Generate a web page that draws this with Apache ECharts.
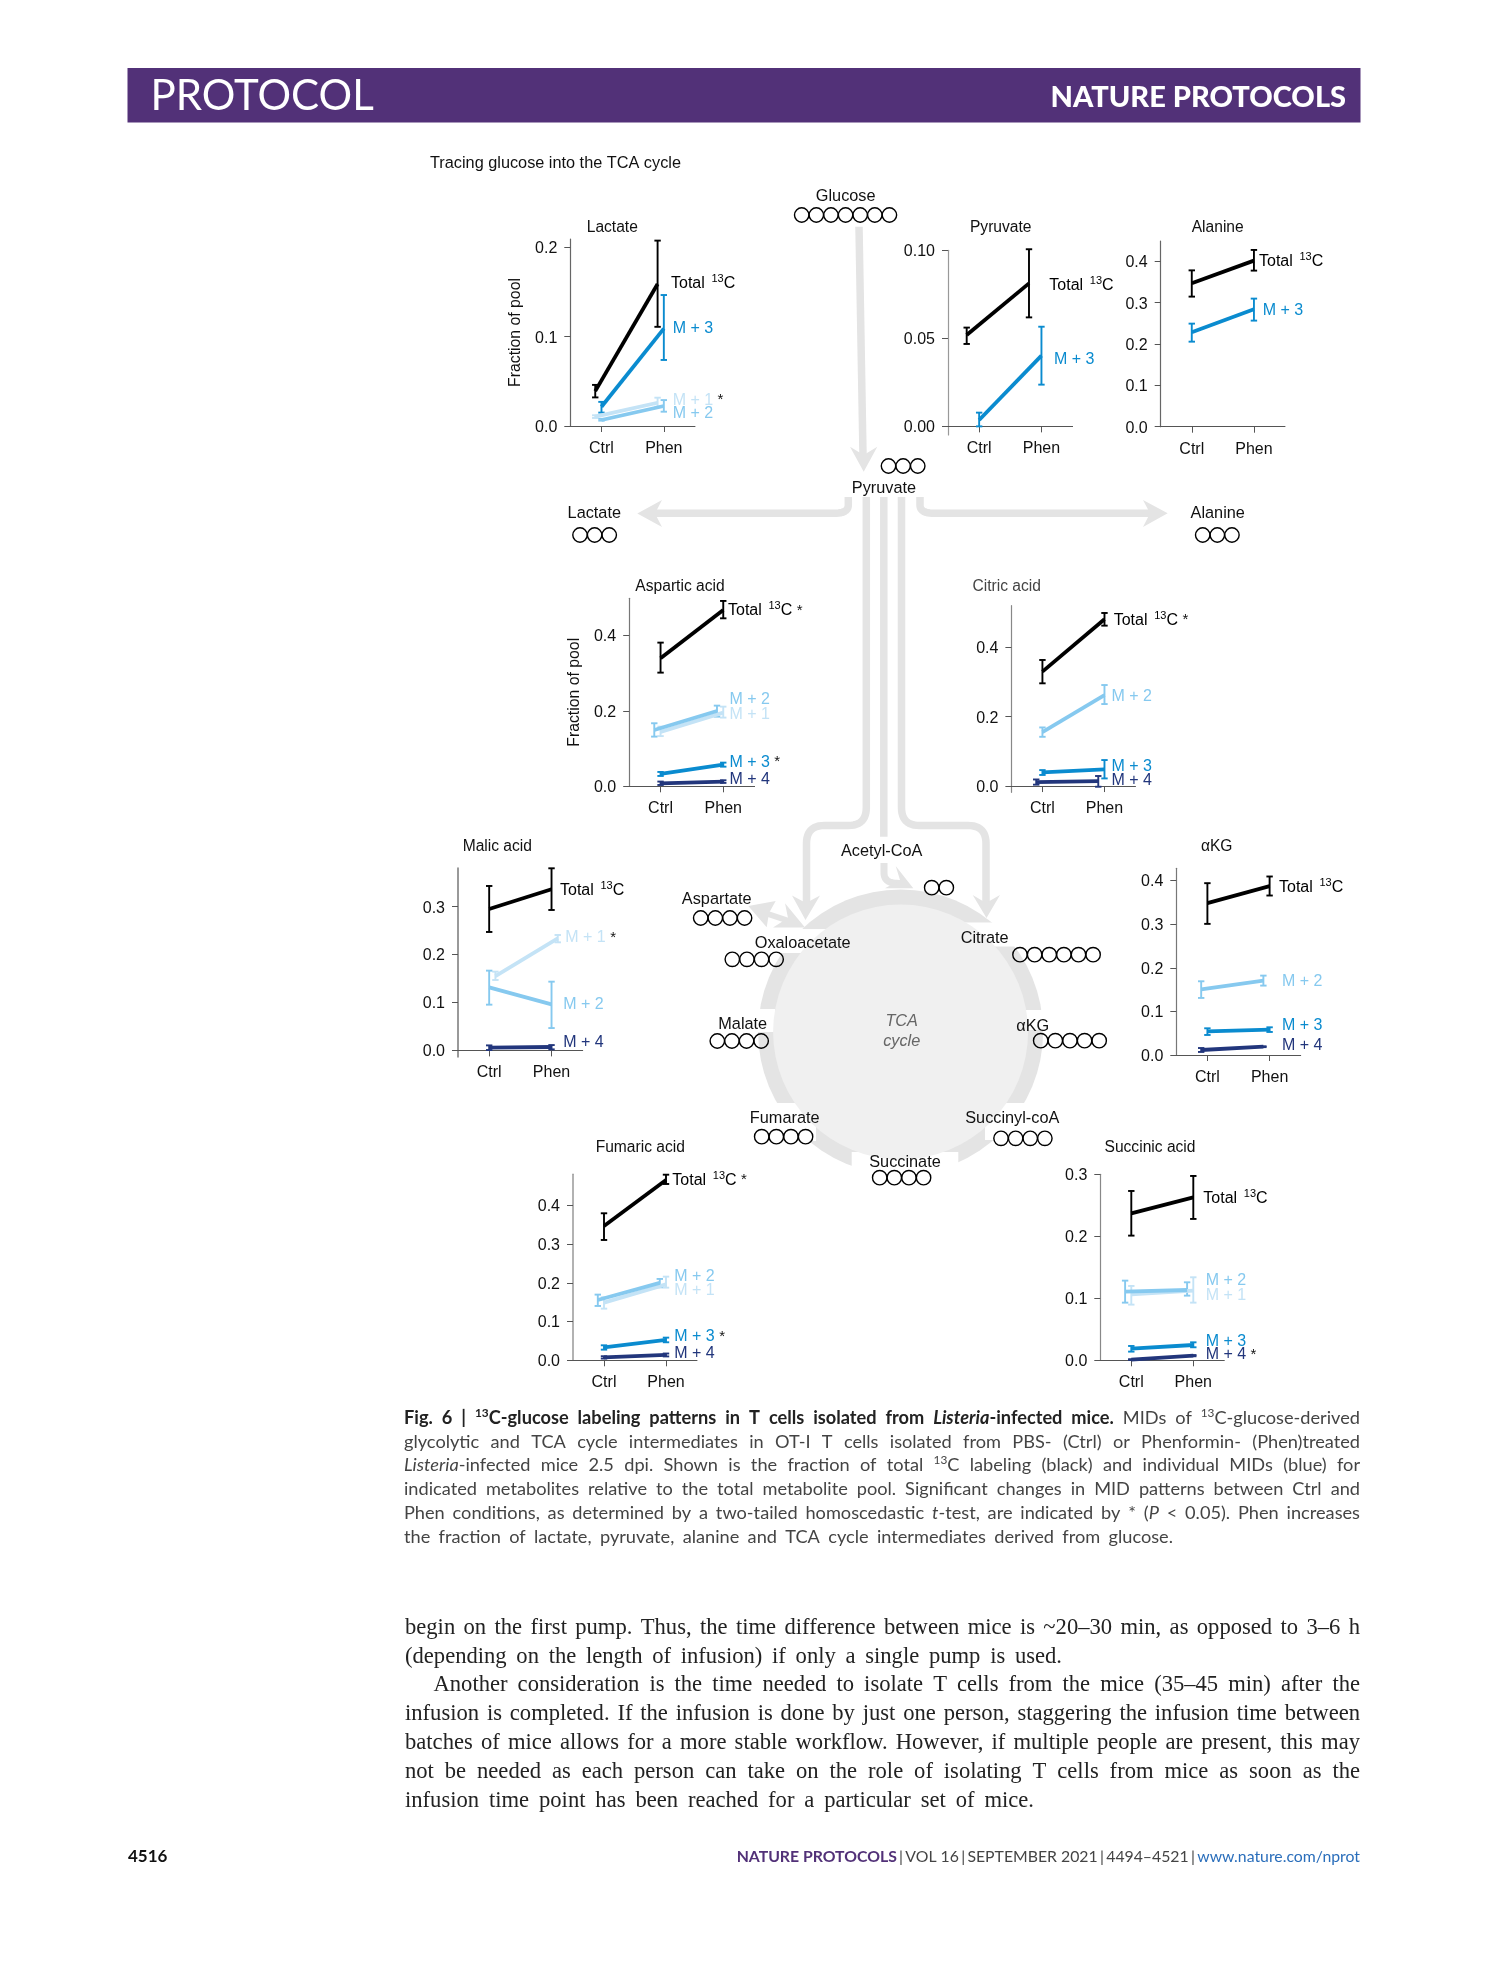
<!DOCTYPE html>
<html>
<head>
<meta charset="utf-8">
<style>html,body{margin:0;padding:0;background:#fff}#c{position:absolute;left:0;top:0;width:1489px;height:1978px}</style>
<script src="https://cdn.jsdelivr.net/npm/echarts@6/dist/echarts.min.js"></script>
</head>
<body>
<div id="c"></div>
<script>
// ---- data: each entry is [mean, lower error, upper error] for Ctrl then Phen
const categories = ['Ctrl', 'Phen'];

const lactateTotal = [[0.039, 0.032, 0.046], [0.159, 0.111, 0.2075]];
const lactateM1 = [[0.0104, 0.009, 0.012], [0.026, 0.0216, 0.0317]];
const lactateM2 = [[0.0067, 0.006, 0.008], [0.0224, 0.016, 0.029]];
const lactateM3 = [[0.0216, 0.015, 0.027], [0.109, 0.0739, 0.1466]];
const lactateTicks = [0, 0.1, 0.2];

const pyruvateTotal = [[0.0519, 0.0468, 0.0561], [0.0812, 0.0619, 0.1006]];
const pyruvateM3 = [[0.0036, 0, 0.0078], [0.0402, 0.0237, 0.0566]];
const pyruvateTicks = [0, 0.05, 0.1];

const alanineTotal = [[0.3468, 0.3145, 0.378], [0.4016, 0.3774, 0.4274]];
const alanineM3 = [[0.2282, 0.2056, 0.2492], [0.2839, 0.2565, 0.3097]];
const alanineTicks = [0, 0.1, 0.2, 0.3, 0.4];

const asparticTotal = [[0.339, 0.3011, 0.3806], [0.4671, 0.445, 0.491]];
const asparticM1 = [[0.144, 0.133, 0.158], [0.195, 0.182, 0.211]];
const asparticM2 = [[0.149, 0.1316, 0.167], [0.1996, 0.1845, 0.2137]];
const asparticM3 = [[0.0327, 0.0274, 0.038], [0.0574, 0.052, 0.0627]];
const asparticM4 = [[0.008, 0.0035, 0.0125], [0.0124, 0.009, 0.016]];
const asparticTicks = [0, 0.2, 0.4];

const citricTotal = [[0.3298, 0.2962, 0.3635], [0.4808, 0.4625, 0.499]];
const citricM2 = [[0.1558, 0.142, 0.169], [0.2625, 0.2365, 0.2913]];
const citricM3 = [[0.0394, 0.032, 0.046], [0.048, 0.022, 0.075]];
const citricM4 = [[0.0115, 0.004, 0.019], [0.0144, -0.002, 0.029]];
const citricTicks = [0, 0.2, 0.4];

const malicTotal = [[0.2951, 0.2471, 0.3431], [0.3362, 0.293, 0.38]];
const malicM1 = [[0.1552, 0.1469, 0.1643], [0.2339, 0.2255, 0.2408]];
const malicM2 = [[0.1316, 0.0954, 0.1664], [0.0961, 0.0466, 0.1434]];
const malicM4 = [[0.0056, 0.0007, 0.0104], [0.007, 0.0021, 0.0111]];
const malicTicks = [0, 0.1, 0.2, 0.3];

const akgTotal = [[0.348, 0.3006, 0.3939], [0.387, 0.3656, 0.4092]];
const akgM2 = [[0.1507, 0.1308, 0.169], [0.1706, 0.1591, 0.182]];
const akgM3 = [[0.0543, 0.0459, 0.0612], [0.0581, 0.0528, 0.0635]];
const akgM4 = [[0.0115, 0.007, 0.016], [0.0191, 0.018, 0.02]];
const akgTicks = [0, 0.1, 0.2, 0.3, 0.4];

const fumaricTotal = [[0.3467, 0.3105, 0.3794], [0.4654, 0.455, 0.479]];
const fumaricM1 = [[0.1488, 0.1333, 0.1626], [0.1961, 0.1875, 0.2159]];
const fumaricM2 = [[0.1557, 0.1402, 0.1695], [0.1996, 0.1884, 0.21]];
const fumaricM3 = [[0.0335, 0.0275, 0.0387], [0.0525, 0.0465, 0.0585]];
const fumaricM4 = [[0.0077, 0.0045, 0.0105], [0.0138, 0.01, 0.0175]];
const fumaricTicks = [0, 0.1, 0.2, 0.3, 0.4];

const succinicTotal = [[0.2371, 0.2011, 0.2731], [0.2629, 0.228, 0.2973]];
const succinicM1 = [[0.1065, 0.0898, 0.1199], [0.1124, 0.093, 0.1339]];
const succinicM2 = [[0.1108, 0.093, 0.1285], [0.1134, 0.1043, 0.1258]];
const succinicM3 = [[0.0188, 0.014, 0.0231], [0.0247, 0.021, 0.029]];
const succinicM4 = [[0.0011, 0.0005, 0.0018], [0.0075, 0.0065, 0.0085]];
const succinicTicks = [0, 0.1, 0.2, 0.3];

// ---- styles
const SANS = '"Liberation Sans", Arial, sans-serif';
const LATO = 'Lato, "Open Sans", sans-serif';
const SERIF = '"Liberation Serif", serif';
const colors = { total: '#000000', m1: '#c4e3f6', m2: '#86c9ef', m3: '#0a8bcf', m4: '#22367c' };
const labelsText = { m1: 'M + 1', m2: 'M + 2', m3: 'M + 3', m4: 'M + 4' };
const GREY = '#e4e4e4';
const TEXT_DY = 0.8;

// ---- panel layout: box = [left, top, right, bottom] in page pixels
const panels = [
  { box: [570.3, 239, 695, 426], y: [0, 0.2093], ticks: lactateTicks, dec: 1, yName: true, axis: '#666',
    series: [['m1', lactateM1, -0.1], ['m2', lactateM2, 0], ['m3', lactateM3, 0], ['total', lactateTotal, -0.1]],
    labels: [['total', 671, 282.3], ['m3', 672.7, 327.7], ['m1', 672.7, 399.3, 1], ['m2', 672.7, 412.7]] },
  { box: [948, 250.3, 1072.6, 435], y: [-0.0049, 0.1], ticks: pyruvateTicks, dec: 2, axis: '#999',
    series: [['m3', pyruvateM3, 0], ['total', pyruvateTotal, -0.2]],
    labels: [['total', 1049.3, 284.3], ['m3', 1054, 358.3]] },
  { box: [1160.7, 241, 1285, 426.7], y: [0, 0.449], ticks: alanineTicks, dec: 1, axis: '#666',
    series: [['m3', alanineM3, 0], ['total', alanineTotal, 0]],
    labels: [['total', 1259, 261], ['m3', 1262.7, 309.3]] },
  { box: [629.2, 598.3, 754.6, 786.3], y: [0, 0.498], ticks: asparticTicks, dec: 1, yName: true, axis: '#777',
    series: [['m1', asparticM1, 0], ['m2', asparticM2, -0.1], ['m3', asparticM3, 0], ['m4', asparticM4, 0], ['total', asparticTotal, 0]],
    labels: [['total', 728, 610, 1], ['m2', 729.4, 698.3], ['m1', 729.4, 713.7], ['m3', 729.4, 761.3, 1], ['m4', 729.4, 778.7]] },
  { box: [1011.4, 605.7, 1135.5, 792.3], y: [-0.018, 0.52], ticks: citricTicks, dec: 1, axis: '#888',
    series: [['m2', citricM2, 0], ['m3', citricM3, 0], ['m4', citricM4, -0.1], ['total', citricTotal, 0]],
    labels: [['total', 1113.7, 619.3, 1], ['m2', 1111.5, 695.7], ['m3', 1111.5, 765.7], ['m4', 1111.5, 779.7]] },
  { box: [458, 868.3, 582.7, 1056.7], y: [-0.0132, 0.38], ticks: malicTicks, dec: 1, axis: '#999', axisW: 2,
    series: [['m1', malicM1, 0.1], ['m2', malicM2, 0], ['m4', malicM4, 0], ['total', malicTotal, 0]],
    labels: [['total', 560, 890], ['m1', 565.3, 936.7, 1], ['m2', 563.3, 1003.3], ['m4', 563.3, 1042]] },
  { box: [1176.3, 868.3, 1300.7, 1055], y: [0, 0.428], ticks: akgTicks, dec: 1, axis: '#777',
    series: [['m2', akgM2, -0.1], ['m3', akgM3, 0], ['m4', akgM4, -0.1], ['total', akgTotal, 0]],
    labels: [['total', 1279, 886.3], ['m2', 1282, 980.7], ['m3', 1282, 1024.7], ['m4', 1282, 1045]] },
  { box: [573, 1174.3, 697, 1360.3], y: [0, 0.48], ticks: fumaricTicks, dec: 1, axis: '#999', axisW: 1.5,
    series: [['m1', fumaricM1, 0], ['m2', fumaricM2, -0.1], ['m3', fumaricM3, 0], ['m4', fumaricM4, 0], ['total', fumaricTotal, 0]],
    labels: [['total', 672.3, 1179.3, 1], ['m2', 674.3, 1275.7], ['m1', 674.3, 1289.7], ['m3', 674.3, 1335.7, 1], ['m4', 674.3, 1352.7]] },
  { box: [1100.3, 1174.3, 1224.3, 1360.3], y: [0, 0.3], ticks: succinicTicks, dec: 1, axis: '#888',
    series: [['m1', succinicM1, 0], ['m2', succinicM2, -0.1], ['m3', succinicM3, 0], ['m4', succinicM4, 0], ['total', succinicTotal, 0]],
    labels: [['total', 1203.3, 1197.3], ['m2', 1205.7, 1280], ['m1', 1205.7, 1294.3], ['m3', 1205.7, 1340.3], ['m4', 1205.7, 1353.7, 1]] }
];

// ---- charts
const grids = [], xAxes = [], yAxes = [], series = [], graphic = [];
panels.forEach((p, i) => {
  const [l, t, r, b] = p.box;
  const belowZero = -p.y[0] / (p.y[1] - p.y[0]) * (b - t);
  grids.push({ left: l, top: t, width: r - l, height: b - t, containLabel: false });
  xAxes.push({
    type: 'value', gridIndex: i, min: 0.5, max: 2.5, splitLine: { show: false },
    axisLine: { show: true, onZero: true, lineStyle: { color: '#555', width: 1 } },
    axisTick: { show: true, length: 6, customValues: [1, 2], lineStyle: { color: '#555', width: 1 } },
    axisLabel: { show: true, customValues: [1, 2], margin: 14.5 - belowZero, fontFamily: SANS, fontSize: 16, color: '#111', formatter: v => categories[Math.round(v) - 1] }
  });
  yAxes.push({
    type: 'value', gridIndex: i, min: p.y[0], max: p.y[1], splitLine: { show: false },
    axisLine: { show: true, onZero: false, lineStyle: { color: p.axis, width: p.axisW || 1.2 } },
    axisTick: { show: true, length: 6, customValues: p.ticks, lineStyle: { color: '#555', width: 1 } },
    axisLabel: { show: true, customValues: p.ticks, margin: 13, verticalAlign: 'top', lineHeight: 3, fontFamily: SANS, fontSize: 16, color: '#111', formatter: v => v.toFixed(p.dec) },
    name: p.yName ? 'Fraction of pool' : '', nameLocation: 'middle', nameRotate: 90, nameGap: 47,
    nameTextStyle: { fontFamily: SANS, fontSize: 15.8, color: '#111' }
  });
  p.series.forEach(([key, vals, dx]) => {
    const c = colors[key];
    series.push({
      type: 'line', xAxisIndex: i, yAxisIndex: i, showSymbol: false, symbol: 'none', silent: true, clip: false,
      lineStyle: { color: c, width: 3.8, cap: 'butt' },
      data: vals.map((v, k) => [k + 1 + dx, v[0]])
    });
    series.push({
      type: 'custom', xAxisIndex: i, yAxisIndex: i, silent: true, clip: false,
      encode: { x: 0, y: [1, 2] },
      data: vals.map((v, k) => [k + 1 + dx, v[1], v[2]]),
      renderItem: (params, api) => {
        const lo = api.coord([api.value(0), api.value(1)]);
        const hi = api.coord([api.value(0), api.value(2)]);
        const style = { stroke: c, lineWidth: 1.9, fill: null };
        const seg = (x1, y1, x2, y2) => ({ type: 'line', shape: { x1, y1, x2, y2 }, style });
        return { type: 'group', children: [
          seg(lo[0], lo[1], hi[0], hi[1]),
          seg(lo[0] - 3.2, lo[1], lo[0] + 3.2, lo[1]),
          seg(hi[0] - 3.2, hi[1], hi[0] + 3.2, hi[1])
        ] };
      }
    });
  });
  p.labels.forEach(([key, x, y, star]) => {
    const c = colors[key];
    const body = key === 'total' ? '{n|Total }{sp| }{s|13}{n|C}' : '{n|' + labelsText[key] + '}';
    graphic.push({ type: 'text', silent: true, z: 20, style: {
      x, y: y + TEXT_DY, verticalAlign: 'middle', align: 'left', fontFamily: SANS, fontSize: 16,
      text: body + (star ? '{n| }{st|*}' : ''),
      rich: {
        n: { fontFamily: SANS, fontSize: 16, fill: c, lineHeight: 20 },
        sp: { fontFamily: SANS, fontSize: 8, fill: c, lineHeight: 20 },
        s: { fontFamily: SANS, fontSize: 11, fill: c, verticalAlign: 'top', lineHeight: 20 },
        st: { fontFamily: SANS, fontSize: 15, fill: '#111', lineHeight: 20 }
      } } });
  });
});

// ---- diagram helpers
function sampleRounded(pts, r) {
  const out = [pts[0]];
  for (let i = 1; i < pts.length - 1; i++) {
    const [a, b, c] = [pts[i - 1], pts[i], pts[i + 1]];
    const la = Math.hypot(a[0] - b[0], a[1] - b[1]), lc = Math.hypot(c[0] - b[0], c[1] - b[1]);
    const ra = Math.min(r, la / 2), rc = Math.min(r, lc / 2);
    const p0 = [b[0] + (a[0] - b[0]) * ra / la, b[1] + (a[1] - b[1]) * ra / la];
    const p2 = [b[0] + (c[0] - b[0]) * rc / lc, b[1] + (c[1] - b[1]) * rc / lc];
    for (let k = 0; k <= 12; k++) {
      const t = k / 12, u = 1 - t;
      out.push([u * u * p0[0] + 2 * u * t * b[0] + t * t * p2[0], u * u * p0[1] + 2 * u * t * b[1] + t * t * p2[1]]);
    }
  }
  out.push(pts[pts.length - 1]);
  return out;
}
const grey = (pts, r, w) => graphic.push({ type: 'polyline', silent: true, z: 2,
  shape: { points: sampleRounded(pts, r || 0) }, style: { stroke: GREY, lineWidth: w || 7.5, fill: null, lineCap: 'butt', lineJoin: 'round' } });
const head = pts => graphic.push({ type: 'polygon', silent: true, z: 2, shape: { points: pts }, style: { fill: GREY } });
const rect = (x, y, w, h) => graphic.push({ type: 'rect', silent: true, z: 1, shape: { x, y, width: w, height: h }, style: { fill: '#ffffff' } });
const disc = (r, fill, z) => graphic.push({ type: 'circle', silent: true, z, shape: { cx: 900.6, cy: 1032, r }, style: { fill } });
function chain(n, x, y) {
  for (let i = 0; i < n; i++) graphic.push({ type: 'circle', silent: true, z: 10, shape: { cx: x + i * 14.62, cy: y, r: 7.2 },
    style: { fill: 'rgba(0,0,0,0)', stroke: '#000', lineWidth: 1.4 } });
}
function label(text, x, y, opt) {
  graphic.push({ type: 'text', silent: true, z: 20, style: Object.assign({ text, x, y: y + TEXT_DY, align: 'center', verticalAlign: 'middle',
    fontFamily: SANS, fontSize: 16.3, fill: '#111' }, opt || {}) });
}

// TCA ring with its label gaps
disc(142.5, GREY, 0);
rect(773, 929, 58, 24);
rect(960, 922.5, 60, 24);
rect(755, 1009, 20, 23);
rect(1026, 1010, 20, 20);
rect(750, 1103, 66, 38);
rect(985, 1103, 58, 37);
rect(851.7, 1152, 106.6, 30);
disc(127.5, '#f0f0f0', 1);

// pathway arrows
grey([[859, 226.7], [863, 455]]);
head([[850, 446.7], [863.7, 471.7], [877.3, 446.7], [863.7, 455]]);
grey([[848.3, 497], [848.3, 513.3], [655, 513.3]], 14);
head([[637.3, 513.5], [662, 500], [655, 513.5], [662, 527]]);
grey([[920, 497], [920, 513.3], [1150, 513.3]], 14);
head([[1167.7, 513.3], [1143, 500], [1150, 513.3], [1143, 527]]);
grey([[866.3, 497], [866.3, 825.5], [806.5, 825.5], [806.5, 905]], 18);
head([[805.5, 920], [792, 895.5], [806, 903], [820, 895.5]]);
grey([[883.8, 497], [883.8, 836.7]]);
grey([[901.5, 497], [901.5, 825.5], [986, 825.5], [986, 905]], 18);
head([[986.5, 918], [972.7, 895], [986, 903], [1000, 895]]);
grey([[884, 863], [884, 882], [904, 884]], 12, 7);
head([[913.3, 888.3], [895.7, 866], [900, 880], [885, 888.3]]);
grey([[762, 912], [792, 922]], 0, 6);
head([[748.3, 906], [775.7, 901], [769, 913], [766.7, 927.3]]);
head([[805, 927.5], [785, 903.3], [788, 918], [773, 927.5]]);

// metabolite carbons and names
chain(7, 801.7, 215); label('Glucose', 845.7, 195.7);
chain(3, 888.5, 466); label('Pyruvate', 884, 487.5);
chain(3, 580, 535); label('Lactate', 594.3, 512.3);
chain(3, 1202.7, 535); label('Alanine', 1217.7, 512.3);
chain(2, 931.7, 887.7); label('Acetyl-CoA', 881.7, 850.7);
chain(4, 700.7, 918); label('Aspartate', 716.7, 898.3);
chain(4, 732.3, 959.3); label('Oxaloacetate', 802.7, 942.7);
chain(4, 717.3, 1041); label('Malate', 742.7, 1023.3);
chain(4, 761.7, 1136.7); label('Fumarate', 784.7, 1117.3);
chain(4, 879.7, 1177.7); label('Succinate', 905, 1161.7);
chain(4, 1001, 1138.3); label('Succinyl-coA', 1012.3, 1117.7);
chain(5, 1040.7, 1040.7); label('αKG', 1032.7, 1026);
chain(6, 1020, 954.7); label('Citrate', 984.7, 937.3);
label('TCA', 901.7, 1020.7, { fontStyle: 'italic', fill: '#666' });
label('cycle', 901.7, 1040.7, { fontStyle: 'italic', fill: '#666' });

// panel titles
[['Lactate', 612.3, 226.7], ['Pyruvate', 1000.7, 226.7], ['Alanine', 1217.7, 226.7],
 ['Aspartic acid', 680, 585.7], ['Citric acid', 1006.7, 585.7], ['Malic acid', 497.3, 845.7],
 ['αKG', 1216.7, 845.7], ['Fumaric acid', 640.3, 1147.3], ['Succinic acid', 1150, 1147.3]]
  .forEach(t => label(t[0], t[1], t[2], t[0] === 'Citric acid' ? { fontSize: 15.6, fill: '#444' } : { fontSize: 15.6 }));
label('Tracing glucose into the TCA cycle', 430, 162.5, { align: 'left' });

// page header and footer
graphic.push({ type: 'rect', silent: true, z: 0, shape: { x: 127.5, y: 68, width: 1233, height: 54.5 }, style: { fill: '#523178' } });
label('PROTOCOL', 150.5, 95.5, { align: 'left', fontFamily: LATO, fontSize: 42, fontWeight: 400, fill: '#fff' });
label('NATURE PROTOCOLS', 1346, 96.5, { align: 'right', fontFamily: LATO, fontSize: 29, fontWeight: 900, fill: '#fff' });
label('4516', 128, 1855.5, { align: 'left', fontFamily: LATO, fontSize: 17, fontWeight: 700, fill: '#111' });
const footerSep = '{sp| }{g||}{sp| }';
graphic.push({ type: 'text', silent: true, z: 20, style: {
  x: 1360, y: 1856.7, align: 'right', verticalAlign: 'middle', fontFamily: LATO, fontSize: 16, fill: '#444',
  text: '{b|NATURE PROTOCOLS}' + footerSep + '{g|VOL 16}' + footerSep + '{g|SEPTEMBER 2021}' + footerSep + '{g|4494–4521}' + footerSep + '{u|www.nature.com/nprot}',
  rich: {
    b: { fontFamily: LATO, fontSize: 15.8, fontWeight: 700, fill: '#523178' },
    g: { fontFamily: LATO, fontSize: 15.8, fill: '#444' },
    sp: { fontFamily: LATO, fontSize: 9, fill: '#444' },
    u: { fontFamily: LATO, fontSize: 15.8, fill: '#2a6ebb' }
  } } });

// justified text: each word is placed so that the line spans x0..x1
const measureCtx = document.createElement('canvas').getContext('2d');
function parseWord(w) {
  const parts = []; const re = /\{([a-z]+)\|([^}]*)\}/g; let m, last = 0;
  while ((m = re.exec(w))) { if (m.index > last) parts.push(['r', w.slice(last, m.index)]); parts.push([m[1], m[2]]); last = re.lastIndex; }
  if (last < w.length) parts.push(['r', w.slice(last)]);
  return parts;
}
function typeset(line, x0, x1, y, family, size, color) {
  const styles = {
    r: { fontSize: size, fontFamily: family, fill: color },
    b: { fontSize: size, fontFamily: family, fontWeight: 700, fill: '#222' },
    i: { fontSize: size, fontFamily: family, fontStyle: 'italic', fill: color },
    bi: { fontSize: size, fontFamily: family, fontWeight: 700, fontStyle: 'italic', fill: '#222' },
    s: { fontSize: size * 0.65, fontFamily: family, fill: color, verticalAlign: 'top' },
    bs: { fontSize: size * 0.65, fontFamily: family, fontWeight: 700, fill: '#222', verticalAlign: 'top' }
  };
  for (const k in styles) styles[k].lineHeight = size + 4;
  const words = line.split(' ');
  const widths = words.map(w => parseWord(w).reduce((sum, [k, t]) => {
    const s = styles[k];
    measureCtx.font = (s.fontStyle || '') + ' ' + (s.fontWeight || 400) + ' ' + s.fontSize + 'px ' + s.fontFamily;
    return sum + measureCtx.measureText(t).width;
  }, 0));
  const total = widths.reduce((a, b) => a + b, 0);
  const gap = words.length > 1 ? (x1 - x0 - total) / (words.length - 1) : 0;
  let x = x0;
  words.forEach((w, i) => {
    graphic.push({ type: 'text', silent: true, z: 20, style: {
      x, y, align: 'left', verticalAlign: 'middle', fontFamily: family, fontSize: size, fill: color,
      text: parseWord(w).map(([k, t]) => '{' + k + '|' + t + '}').join(''), rich: styles } });
    x += widths[i] + gap;
  });
}

const captionLines = [
  ['{b|Fig.} {b|6} {b||} {bs|13}{b|C-glucose} {b|labeling} {b|patterns} {b|in} {b|T} {b|cells} {b|isolated} {b|from} {bi|Listeria}{b|-infected} {b|mice.} MIDs of {s|13}C-glucose-derived', 1360, 1418.5],
  ['glycolytic and TCA cycle intermediates in OT-I T cells isolated from PBS- (Ctrl) or Phenformin- (Phen)treated', 1360, 1442.5],
  ['{i|Listeria}-infected mice 2.5 dpi. Shown is the fraction of total {s|13}C labeling (black) and individual MIDs (blue) for', 1360, 1465.5],
  ['indicated metabolites relative to the total metabolite pool. Significant changes in MID patterns between Ctrl and', 1360, 1489.5],
  ['Phen conditions, as determined by a two-tailed homoscedastic {i|t}-test, are indicated by * ({i|P} < 0.05). Phen increases', 1360, 1513.5],
  ['the fraction of lactate, pyruvate, alanine and TCA cycle intermediates derived from glucose.', 1173, 1537.5]
];
captionLines.forEach(([t, x1, y]) => typeset(t, 404, x1, y, LATO, 18.2, '#444'));

const bodyLines = [
  ['begin on the first pump. Thus, the time difference between mice is ~20–30 min, as opposed to 3–6 h', 405, 1360, 1628],
  ['(depending on the length of infusion) if only a single pump is used.', 405, 1062, 1657],
  ['Another consideration is the time needed to isolate T cells from the mice (35–45 min) after the', 433.5, 1360, 1685],
  ['infusion is completed. If the infusion is done by just one person, staggering the infusion time between', 405, 1360, 1714],
  ['batches of mice allows for a more stable workflow. However, if multiple people are present, this may', 405, 1360, 1743],
  ['not be needed as each person can take on the role of isolating T cells from mice as soon as the', 405, 1360, 1772],
  ['infusion time point has been reached for a particular set of mice.', 405, 1034, 1801]
];
bodyLines.forEach(([t, x0, x1, y]) => typeset(t, x0, x1, y, SERIF, 22.6, '#222'));

const chart = echarts.init(document.getElementById('c'), null, { width: 1489, height: 1978 });
chart.setOption({
  animation: false, backgroundColor: '#fff', tooltip: { show: false },
  grid: grids, xAxis: xAxes, yAxis: yAxes, series, graphic: { elements: graphic }
});
</script>
</body>
</html>
